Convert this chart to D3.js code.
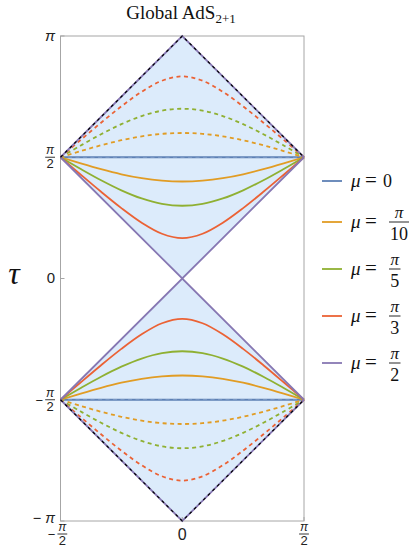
<!DOCTYPE html>
<html><head><meta charset="utf-8">
<script src="https://cdn.jsdelivr.net/npm/d3@7"></script>
<style>body{margin:0;background:#fff}svg{display:block}</style>
</head><body>
<svg id="c" width="415" height="552"></svg>
<script>
// ---- data ----
const xSamples = [-1.5708,-1.3090,-1.0472,-0.7854,-0.5236,-0.2618,0,0.2618,0.5236,0.7854,1.0472,1.3090,1.5708];
// mu = 0
const mu0Upper = [1.5708,1.5708,1.5708,1.5708,1.5708,1.5708,1.5708,1.5708,1.5708,1.5708,1.5708,1.5708,1.5708];
const mu0Lower = [-1.5708,-1.5708,-1.5708,-1.5708,-1.5708,-1.5708,-1.5708,-1.5708,-1.5708,-1.5708,-1.5708,-1.5708,-1.5708];
// mu = pi/10
const mu10SolidUpper = [1.5708,1.4907,1.4157,1.3505,1.2999,1.2677,1.2566,1.2677,1.2999,1.3505,1.4157,1.4907,1.5708];
const mu10DashUpper  = [1.5708,1.6509,1.7259,1.7911,1.8417,1.8739,1.8850,1.8739,1.8417,1.7911,1.7259,1.6509,1.5708];
const mu10SolidLower = [-1.5708,-1.4907,-1.4157,-1.3505,-1.2999,-1.2677,-1.2566,-1.2677,-1.2999,-1.3505,-1.4157,-1.4907,-1.5708];
const mu10DashLower  = [-1.5708,-1.6509,-1.7259,-1.7911,-1.8417,-1.8739,-1.8850,-1.8739,-1.8417,-1.7911,-1.7259,-1.6509,-1.5708];
// mu = pi/5
const mu5SolidUpper = [1.5708,1.4181,1.2725,1.1422,1.0368,0.9671,0.9425,0.9671,1.0368,1.1422,1.2725,1.4181,1.5708];
const mu5DashUpper  = [1.5708,1.7235,1.8691,1.9994,2.1048,2.1745,2.1991,2.1745,2.1048,1.9994,1.8691,1.7235,1.5708];
const mu5SolidLower = [-1.5708,-1.4181,-1.2725,-1.1422,-1.0368,-0.9671,-0.9425,-0.9671,-1.0368,-1.1422,-1.2725,-1.4181,-1.5708];
const mu5DashLower  = [-1.5708,-1.7235,-1.8691,-1.9994,-2.1048,-2.1745,-2.1991,-2.1745,-2.1048,-1.9994,-1.8691,-1.7235,-1.5708];
// mu = pi/3
const mu3SolidUpper = [1.5708,1.3447,1.1230,0.9118,0.7227,0.5799,0.5236,0.5799,0.7227,0.9118,1.1230,1.3447,1.5708];
const mu3DashUpper  = [1.5708,1.7969,2.0186,2.2298,2.4189,2.5617,2.6180,2.5617,2.4189,2.2298,2.0186,1.7969,1.5708];
const mu3SolidLower = [-1.5708,-1.3447,-1.1230,-0.9118,-0.7227,-0.5799,-0.5236,-0.5799,-0.7227,-0.9118,-1.1230,-1.3447,-1.5708];
const mu3DashLower  = [-1.5708,-1.7969,-2.0186,-2.2298,-2.4189,-2.5617,-2.6180,-2.5617,-2.4189,-2.2298,-2.0186,-1.7969,-1.5708];
// mu = pi/2 (light-cone edges)
const coneX = [-1.5708, 0, 1.5708];
const mu2InnerUpper = [1.5708, 0, 1.5708];
const mu2InnerLower = [-1.5708, 0, -1.5708];
const mu2OuterUpper = [1.5708, 3.1416, 1.5708];
const mu2OuterLower = [-1.5708, -3.1416, -1.5708];

const legendLabels = ["0", "π/10", "π/5", "π/3", "π/2"];
const seriesColors = ["#5E81B5", "#E19C24", "#8FB032", "#EB6235", "#8778B3"];
const yTickValues = [-3.1416, -1.5708, 0, 1.5708, 3.1416];
const yTickLabels = ["−π", "−π/2", "0", "π/2", "π"];
const xTickValues = [-1.5708, 0, 1.5708];
const xTickLabels = ["−π/2", "0", "π/2"];
const titleText = "Global AdS";
const titleSub = "2+1";
const yLabel = "τ";

// ---- drawing ----
const svg = d3.select("#c");
const x = d3.scaleLinear().domain([-Math.PI/2, Math.PI/2]).range([60.5, 304]);
const y = d3.scaleLinear().domain([-Math.PI, Math.PI]).range([521, 36]);
const sans = "'Liberation Sans', Arial, sans-serif";
const serif = "'Liberation Serif', 'Times New Roman', serif";

const line = (xs, ys, curve) => d3.line().x((d,i)=>x(xs[i])).y(d=>y(d)).curve(curve || d3.curveLinear)(ys);

// fill diamonds
const diamond = (tops, bottoms) => {
  const pts = coneX.map((v,i)=>[x(v), y(tops[i])]).concat(coneX.slice().reverse().map((v,i)=>[x(v), y(bottoms[bottoms.length-1-i])]));
  return d3.line()(pts) + "Z";
};
svg.append("path").attr("d", diamond(mu2OuterUpper, mu2InnerUpper)).attr("fill", "#dcebfb");
svg.append("path").attr("d", diamond(mu2InnerLower, mu2OuterLower)).attr("fill", "#dcebfb");

// frame
const frame = svg.append("g").attr("stroke", "#a6a6a6").attr("fill", "none").attr("stroke-width", 1);
frame.append("rect").attr("x", x(-Math.PI/2)).attr("y", y(Math.PI)).attr("width", x(Math.PI/2)-x(-Math.PI/2)).attr("height", y(-Math.PI)-y(Math.PI));
yTickValues.forEach(v => frame.append("line").attr("x1", x(-Math.PI/2)).attr("x2", x(-Math.PI/2)+4).attr("y1", y(v)).attr("y2", y(v)));
xTickValues.forEach(v => frame.append("line").attr("x1", x(v)).attr("x2", x(v)).attr("y1", y(-Math.PI)).attr("y2", y(-Math.PI)-4));

const curves = svg.append("g").attr("fill", "none").attr("stroke-width", 1.8);
const smooth = d3.curveCatmullRom;
// mu = 0
curves.append("path").attr("d", line(xSamples, mu0Upper)).attr("stroke", seriesColors[0]);
curves.append("path").attr("d", line(xSamples, mu0Lower)).attr("stroke", seriesColors[0]);
curves.append("path").attr("d", line(xSamples, mu0Upper)).attr("stroke", "#7f9cc8").attr("stroke-dasharray", "4,3.5").attr("stroke-width", 1.2);
curves.append("path").attr("d", line(xSamples, mu0Lower)).attr("stroke", "#7f9cc8").attr("stroke-dasharray", "4,3.5").attr("stroke-width", 1.2);
const groups = [
  [mu10SolidUpper, mu10SolidLower, mu10DashUpper, mu10DashLower, 1],
  [mu5SolidUpper, mu5SolidLower, mu5DashUpper, mu5DashLower, 2],
  [mu3SolidUpper, mu3SolidLower, mu3DashUpper, mu3DashLower, 3]
];
groups.forEach(g => {
  const c = seriesColors[g[4]];
  curves.append("path").attr("d", line(xSamples, g[0], smooth)).attr("stroke", c);
  curves.append("path").attr("d", line(xSamples, g[1], smooth)).attr("stroke", c);
  curves.append("path").attr("d", line(xSamples, g[2], smooth)).attr("stroke", c).attr("stroke-dasharray", "4,3.5");
  curves.append("path").attr("d", line(xSamples, g[3], smooth)).attr("stroke", c).attr("stroke-dasharray", "4,3.5");
});
// mu = pi/2
[mu2InnerUpper, mu2InnerLower, mu2OuterUpper, mu2OuterLower].forEach(ys =>
  curves.append("path").attr("d", line(coneX, ys)).attr("stroke", seriesColors[4]));
[mu2OuterUpper, mu2OuterLower].forEach(ys =>
  curves.append("path").attr("d", line(coneX, ys)).attr("stroke", "#000").attr("stroke-width", 1.2).attr("stroke-dasharray", "3,3.5"));

// fraction helper
function fracLabel(g, label, cx, cy, size, anchor) {
  let sign = "", body = label;
  if (body.startsWith("−")) { sign = "−"; body = body.slice(1); }
  if (body.includes("/")) {
    const [num, den] = body.split("/");
    const w = Math.max(num.length, den.length) * size * 0.6 + 2;
    let fx;
    if (anchor === "end") fx = cx - w/2; else fx = cx + (sign ? size*0.45 : 0);
    g.append("text").attr("x", fx).attr("y", cy - 3).attr("text-anchor", "middle").attr("font-size", size - 1).attr("font-style", "italic").text(num);
    g.append("line").attr("x1", fx - w/2).attr("x2", fx + w/2).attr("y1", cy).attr("y2", cy).attr("stroke", "#000").attr("stroke-width", 0.8);
    g.append("text").attr("x", fx).attr("y", cy + size*0.85).attr("text-anchor", "middle").attr("font-size", size).text(den);
    if (sign) g.append("text").attr("x", fx - w/2 - 2).attr("y", cy + size*0.38).attr("text-anchor", "end").attr("font-size", size).text(sign);
  } else {
    const t = g.append("text").attr("x", cx).attr("y", cy + size*0.36).attr("text-anchor", anchor).attr("font-size", size + 2);
    if (sign) t.append("tspan").text(sign + " ");
    t.append("tspan").attr("font-style", body === "π" ? "italic" : "normal").text(body);
  }
}

const tickG = svg.append("g").attr("font-family", sans).attr("fill", "#222");
yTickValues.forEach((v,i) => fracLabel(tickG, yTickLabels[i], 55, y(v) - (i === 0 ? 2.5 : 0), i === 0 ? 12.5 : 13, "end"));
xTickValues.forEach((v,i) => {
  const lab = xTickLabels[i];
  if (lab.includes("/")) fracLabel(tickG, lab, x(v) - (lab.startsWith("−") ? 4 : 0), 534, 13, "middle");
  else tickG.append("text").attr("x", x(v)).attr("y", 540).attr("text-anchor", "middle").attr("font-size", 16).text(lab);
});

// title
const t = svg.append("text").attr("x", 181).attr("y", 19).attr("text-anchor", "middle").attr("font-family", serif).attr("font-size", 19).attr("fill", "#111");
t.append("tspan").text(titleText);
t.append("tspan").attr("font-size", 13).attr("dy", 4).text(titleSub);

// y label
svg.append("text").attr("x", 14).attr("y", 284).attr("text-anchor", "middle").attr("font-family", serif).attr("font-style", "italic").attr("font-size", 32).attr("fill", "#111").text(yLabel);

// legend
const lg = svg.append("g").attr("font-family", serif).attr("fill", "#111");
let ly = 181;
legendLabels.forEach((lab, i) => {
  if (i > 0) ly += lab.includes("/") && legendLabels[i-1].includes("/") ? 47 : 41;
  lg.append("line").attr("x1", 322).attr("x2", 342).attr("y1", ly).attr("y2", ly).attr("stroke", seriesColors[i]).attr("stroke-width", 1.8);
  lg.append("text").attr("x", 351).attr("y", ly + 6).attr("font-size", 19).attr("font-style", "italic").text("μ");
  lg.append("text").attr("x", 371).attr("y", ly + 6).attr("text-anchor", "middle").attr("font-size", 21).text("=");
  if (lab.includes("/")) {
    const [num, den] = lab.split("/");
    const w = den.length * 8.5 + 3;
    const fx = 389 + w/2;
    lg.append("text").attr("x", fx).attr("y", ly - 4).attr("text-anchor", "middle").attr("font-size", 17).attr("font-style", "italic").text(num);
    lg.append("line").attr("x1", fx - w/2).attr("x2", fx + w/2).attr("y1", ly).attr("y2", ly).attr("stroke", "#111").attr("stroke-width", 0.9);
    lg.append("text").attr("x", fx).attr("y", ly + 18).attr("text-anchor", "middle").attr("font-size", 18).text(den);
  } else {
    lg.append("text").attr("x", 383).attr("y", ly + 6).attr("font-size", 18).text(lab);
  }
});
</script>
</body></html>
